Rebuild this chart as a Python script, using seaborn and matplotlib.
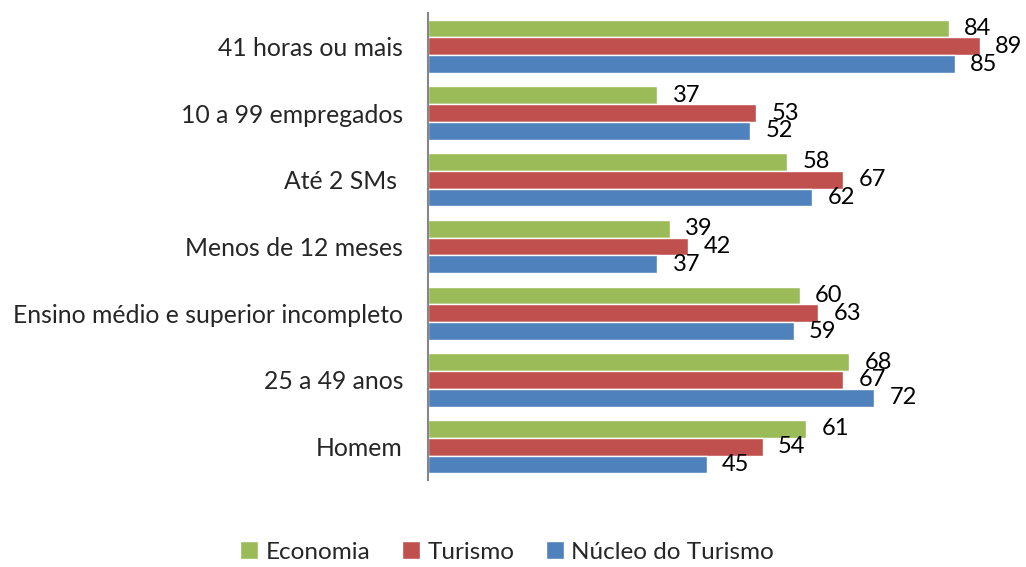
import pandas as pd
import seaborn as sns
import matplotlib.pyplot as plt

# categories from top to bottom
categorias = ["41 horas ou mais", "10 a 99 empregados", "Até 2 SMs ",
              "Menos de 12 meses", "Ensino médio e superior incompleto",
              "25 a 49 anos", "Homem"]
economia = [84, 37, 58, 39, 60, 68, 61]
turismo = [89, 53, 67, 42, 63, 67, 54]
nucleo = [85, 52, 62, 37, 59, 72, 45]
series = ["Economia", "Turismo", "Núcleo do Turismo"]
cores = ["#9BBB59", "#C0504D", "#4F81BD"]

df = pd.DataFrame({"Categoria": categorias * 3,
                   "Valor": economia + turismo + nucleo,
                   "Serie": [s for s in series for _ in categorias]})

sns.set_style("white")
plt.rcParams["font.family"] = ["Lato", "DejaVu Sans"]

fig = plt.figure(figsize=(10.26, 5.67), dpi=100)
ax = fig.add_axes([428 / 1026, 1 - 480 / 567, 1 - 428 / 1026, 467 / 567])

sns.barplot(data=df, x="Valor", y="Categoria", hue="Serie", order=categorias,
            hue_order=series, palette=cores, orient="h", width=0.8,
            saturation=1, ax=ax)

for c in ax.containers:
    ax.bar_label(c, padding=11, fontsize=17, color="black")

ax.set_xlim(0, 96.5)
ax.set_xticks([])
ax.set_xlabel("")
ax.set_ylabel("")
ax.tick_params(axis="y", length=0, pad=18, labelsize=17.8)
for s in ["top", "right", "bottom"]:
    ax.spines[s].set_visible(False)
ax.spines["left"].set_color("#868686")
ax.spines["left"].set_linewidth(1.5)

sns.move_legend(ax, "center", bbox_to_anchor=(507 / 1026, 1 - 552 / 567),
                bbox_transform=fig.transFigure, ncol=3, frameon=False,
                title=None, fontsize=17.5, handlelength=0.75, handleheight=0.75,
                handletextpad=0.3, columnspacing=1.3)

fig.savefig("out.png", dpi=100)
